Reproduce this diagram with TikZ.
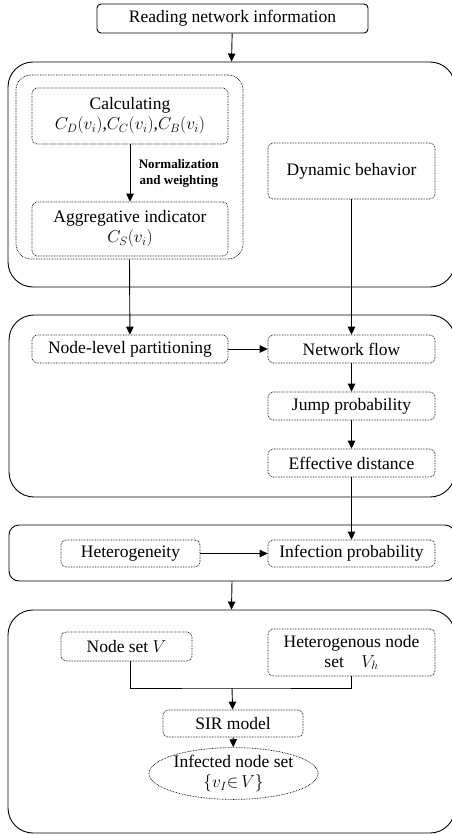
\documentclass[tikz,border=0pt]{standalone}
\usepackage{fontspec}
\setmainfont{Liberation Serif}
\usetikzlibrary{arrows.meta,shapes.geometric,calc}
\begin{document}
\begin{tikzpicture}[x=1pt,y=-1pt,
  font=\fontsize{17.5}{19}\selectfont,
  solidbox/.style={draw,line width=0.9pt,rounded corners=#1,inner sep=0pt},
  dotbox/.style={draw,line width=0.7pt,dash pattern=on 0.7pt off 0.9pt,rounded corners=5pt,inner sep=0pt,align=center},
  arr/.style={line width=0.9pt,-{Triangle[length=8pt,width=7.5pt]}},
  ln/.style={line width=0.9pt}]
\useasboundingbox (0,0) rectangle (451,835);
% outer boxes
\node[solidbox=4pt,minimum width=271pt,minimum height=29pt] (read) at (232.5,18.5) {Reading network information};
\node[solidbox=25pt,minimum width=447pt,minimum height=225pt] (b1) at (231.5,174.5) {};
\node[solidbox=25pt,minimum width=446pt,minimum height=182pt] (b2) at (232,406) {};
\node[solidbox=10pt,minimum width=446pt,minimum height=56pt] (b3) at (232,553) {};
\node[solidbox=25pt,minimum width=447pt,minimum height=223pt] (b4) at (231.5,721.5) {};
% box 1
\node[draw,line width=0.7pt,dash pattern=on 0.7pt off 0.9pt,rounded corners=15pt,minimum width=227pt,minimum height=184pt] (grp) at (129.5,167) {};
\node[dotbox,minimum width=196pt,minimum height=56pt] (calc) at (130,116) {Calculating\\[1pt]$C_D(v_i)$,$C_C(v_i)$,$C_B(v_i)$};
\node[dotbox,minimum width=196pt,minimum height=54pt] (agg) at (130,229) {Aggregative indicator\\[1pt]$C_S(v_i)$};
\node[dotbox,minimum width=167pt,minimum height=56pt] (dyn) at (351.5,171) {Dynamic behavior};
% box 2
\node[dotbox,minimum width=196pt,minimum height=28pt] (nlp) at (130,349) {Node-level partitioning};
\node[dotbox,minimum width=167pt,minimum height=28pt] (nf) at (351.5,349) {Network flow};
\node[dotbox,minimum width=167pt,minimum height=28pt] (jp) at (351.5,406) {Jump probability};
\node[dotbox,minimum width=167pt,minimum height=28pt] (ed) at (351.5,463) {Effective distance};
% box 3
\node[dotbox,minimum width=139pt,minimum height=27pt] (het) at (130.5,553.5) {Heterogeneity};
\node[dotbox,minimum width=167pt,minimum height=27pt] (ip) at (351.5,553.5) {Infection probability};
% box 4
\node[dotbox,minimum width=131pt,minimum height=29pt] (nsv) at (126.5,646.5) {Node set $V$};
\node[dotbox,minimum width=167pt,minimum height=47pt] (vh) at (351.5,652.5) {Heterogenous node\\[1pt]set\quad$V_h$};
\node[dotbox,minimum width=140pt,minimum height=27pt] (sir) at (233,723.5) {SIR model};
\node[draw,ellipse,line width=0.7pt,dash pattern=on 0.7pt off 0.9pt,inner sep=0pt,minimum width=169pt,minimum height=47pt,align=center] (inf) at (233.5,773.5) {Infected node set\\[1pt]$\{v_I{\in}\,V\}$};
% connectors
\draw[arr] (read) -- (b1.north);
\draw[arr] (calc) -- (agg) node[midway,right=5pt,align=center,font=\fontsize{13}{16}\selectfont\bfseries] {Normalization\\and weighting};
\draw[arr] (grp.south) -- (nlp);
\draw[arr] (dyn) -- (nf);
\draw[arr] (nlp) -- (nf);
\draw[arr] (nf) -- (jp);
\draw[arr] (jp) -- (ed);
\draw[arr] (ed) -- (ip);
\draw[arr] (het) -- (ip);
\draw[arr] (b3.south) -- (b4.north);
\coordinate (j) at (232,688);
\draw[ln] ([xshift=3.5pt]nsv.south) |- (j) -| (vh.south);
\draw[arr] (j) -- (sir);
\draw[arr] (sir) -- (inf);
\end{tikzpicture}
\end{document}
